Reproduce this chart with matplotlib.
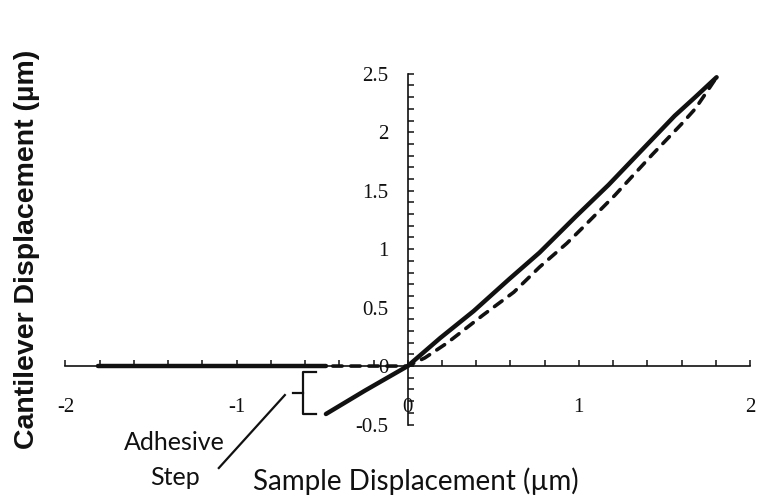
import matplotlib
matplotlib.use("Agg")
import matplotlib.pyplot as plt
from matplotlib.ticker import MultipleLocator, FormatStrFormatter

# approach curve (dashed): flat at zero, then rises
approach_x = [-1.81, 0.0, 0.10, 0.23, 0.44, 0.62, 0.77, 0.93, 1.02, 1.21, 1.43, 1.60, 1.68, 1.75, 1.805]
approach_y = [0.0, 0.0, 0.07, 0.197, 0.436, 0.632, 0.846, 1.05, 1.18, 1.46, 1.81, 2.07, 2.20, 2.35, 2.47]

# retract curve (solid): comes down, dips below zero, then snaps off
retract_x = [1.805, 1.68, 1.56, 1.37, 1.174, 0.983, 0.88, 0.77, 0.594, 0.385, 0.19, 0.0, -0.25, -0.478]
retract_y = [2.47, 2.30, 2.14, 1.85, 1.55, 1.28, 1.13, 0.97, 0.745, 0.47, 0.24, 0.0, -0.21, -0.41]
free_x = [-0.48, -1.81]
free_y = [0.0, 0.0]

# adhesive step bracket and leader line
bracket_x = [-0.536, -0.612, -0.612, -0.536]
bracket_y = [-0.05, -0.05, -0.41, -0.41]
nub_x = [-0.612, -0.67]
nub_y = [-0.23, -0.23]
leader_x = [-1.104, -0.718]
leader_y = [-0.872, -0.248]

ink = "#111111"

fig = plt.figure(figsize=(7.58, 5.04), dpi=100)
ax = fig.add_axes([0.0864, 0.1577, 0.903, 0.696])

ax.plot(approach_x, approach_y, color=ink, lw=2.6, linestyle=(0, (2.6, 2.4)),
        dash_capstyle="round", solid_capstyle="round")
ax.plot(retract_x, retract_y, color=ink, lw=3.2, solid_capstyle="round")
ax.plot(free_x, free_y, color=ink, lw=3.2, solid_capstyle="round")

ax.set_xlim(-2, 2)
ax.set_ylim(-0.5, 2.5)

for side in ["top", "right"]:
    ax.spines[side].set_visible(False)
ax.spines["left"].set_position(("data", 0))
ax.spines["bottom"].set_position(("data", 0))
for side in ["left", "bottom"]:
    ax.spines[side].set_linewidth(1.2)
    ax.spines[side].set_color(ink)

ax.xaxis.set_major_locator(MultipleLocator(1))
ax.xaxis.set_minor_locator(MultipleLocator(0.2))
ax.yaxis.set_major_locator(MultipleLocator(0.5))
ax.yaxis.set_minor_locator(MultipleLocator(0.1))
ax.xaxis.set_major_formatter(FormatStrFormatter("%g"))
ax.yaxis.set_major_formatter(FormatStrFormatter("%g"))

ax.tick_params(which="both", direction="in", length=4, width=1.1, color=ink)
ax.tick_params(axis="x", which="major", pad=23)
ax.tick_params(axis="y", which="major", pad=14)
for lab in ax.get_xticklabels() + ax.get_yticklabels():
    lab.set_fontfamily("Liberation Serif")
    lab.set_fontsize(15)
    lab.set_color(ink)

# bracket + leader
ax.plot(bracket_x, bracket_y, color=ink, lw=1.6, clip_on=False)
ax.plot(nub_x, nub_y, color=ink, lw=1.6, clip_on=False)
ax.plot(leader_x, leader_y, color=ink, lw=1.6, clip_on=False)

ax.text(-1.365, -0.65, "Adhesive", family="Lato", fontsize=18, color=ink,
        ha="center", va="center", clip_on=False)
ax.text(-1.359, -0.957, "Step", family="Lato", fontsize=18, color=ink,
        ha="center", va="center", clip_on=False)

fig.text(0.549, 0.0278, "Sample Displacement (\u00b5m)", family="Lato", fontsize=20,
         color=ink, ha="center", va="baseline")
fig.text(0.0356, 0.505, "Cantilever Displacement (\u00b5m)", family="Liberation Sans",
         fontsize=20.5, fontweight="bold", color=ink, ha="center", va="center", rotation=90)

fig.savefig("out.png", dpi=100)
